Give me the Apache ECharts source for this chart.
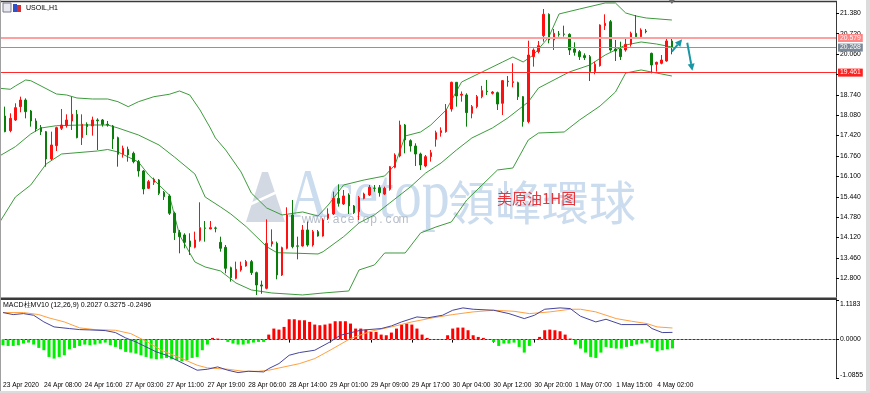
<!DOCTYPE html>
<html><head><meta charset="utf-8">
<script src="https://cdn.jsdelivr.net/npm/echarts@6/dist/echarts.min.js"></script>
<style>html,body{margin:0;padding:0;background:#fff;}#c{width:870px;height:393px;}</style>
</head><body><div id="c"></div>
<script>
// ---------- DATA ----------
const tickBars = [0,8,16,24,32,40,48,56,64,72,80,88,96,104,112,120,128];
const tickLabels = ['23 Apr 2020','24 Apr 08:00','24 Apr 16:00','27 Apr 03:00','27 Apr 11:00','27 Apr 19:00','28 Apr 06:00','28 Apr 14:00','29 Apr 01:00','29 Apr 09:00','29 Apr 17:00','30 Apr 04:00','30 Apr 12:00','30 Apr 20:00','1 May 07:00','1 May 15:00','4 May 02:00'];
const priceTicks = [21.38,20.72,20.06,19.40,18.74,18.08,17.42,16.76,16.10,15.44,14.78,14.12,13.46,12.80];
const macdTicks = [1.1183,0,-1.0855];

const openP = [17.710,18.055,17.581,17.926,18.358,18.573,18.217,17.894,17.678,17.548,
16.663,17.095,17.656,17.743,17.894,18.109,17.354,17.786,17.732,17.926,
17.926,17.786,17.732,17.354,16.814,16.976,16.847,16.577,16.275,15.714,
15.908,15.984,15.584,15.466,14.905,14.279,14.203,14.009,13.804,14.030,
14.430,14.397,14.430,13.966,13.804,13.145,12.800,13.070,13.199,13.340,
12.983,12.584,12.476,13.912,13.933,12.908,13.771,14.850,13.850,13.847,
14.365,13.879,14.311,14.170,14.742,14.883,15.390,15.206,15.498,15.142,
14.958,15.390,15.498,15.720,15.735,15.530,15.681,16.394,16.760,17.764,
17.257,17.084,16.825,16.437,16.739,17.300,17.516,17.548,18.282,19.146,
18.730,18.736,18.142,18.358,18.682,18.860,18.790,18.811,18.466,19.180,
19.135,19.135,18.682,17.872,19.976,20.138,20.656,21.347,20.516,20.710,
20.710,20.699,20.225,20.138,20.009,19.976,19.491,19.685,20.980,21.109,
20.225,20.225,20.192,20.376,20.732,20.624,20.807,20.084,19.728,19.761,
19.836,20.484];
const closeP = [17.527,17.548,17.980,18.325,18.573,18.196,17.894,17.635,17.548,16.663,
17.117,17.678,17.764,17.926,18.109,17.354,17.786,17.710,17.926,17.900,
17.786,17.764,17.311,16.814,17.009,16.793,16.577,16.275,15.692,15.930,
16.005,15.552,15.444,14.905,14.279,14.149,13.966,13.825,14.041,14.440,
14.419,14.440,14.419,13.771,13.124,12.822,13.092,13.199,13.340,12.983,
12.584,12.550,13.933,13.987,12.908,13.793,14.850,13.825,13.840,14.365,
13.879,14.311,14.170,14.688,14.883,15.390,15.228,15.466,15.142,14.926,
15.412,15.530,15.746,15.714,15.573,15.714,16.415,16.793,17.764,17.278,
17.084,16.825,16.469,16.739,16.868,17.516,17.580,18.271,19.146,18.703,
18.760,18.164,18.358,18.682,18.876,18.844,18.830,18.444,19.200,19.167,
19.167,18.682,17.872,20.030,20.192,20.332,21.347,20.516,20.732,20.699,
20.699,20.192,20.117,19.976,19.944,19.491,19.728,21.002,21.055,20.192,
20.160,19.976,20.376,20.732,20.624,20.840,20.786,19.707,19.793,19.868,
20.484,20.268];
const lowP = [17.500,17.530,17.527,17.894,18.174,17.980,17.710,17.548,17.440,16.415,
16.631,16.922,17.602,17.678,17.602,17.333,17.117,17.440,17.419,16.955,
17.710,17.710,16.987,16.415,16.707,16.577,16.523,16.091,15.520,15.692,
15.822,15.498,15.336,14.851,14.041,13.609,13.771,13.556,13.771,13.987,
13.987,14.390,14.289,13.663,12.962,12.692,12.768,13.016,13.178,12.908,
12.260,12.300,12.444,13.825,12.768,12.876,13.739,13.771,13.415,13.825,
13.825,13.825,14.149,14.149,14.688,14.850,15.120,15.174,14.883,14.883,
14.688,15.358,15.466,15.606,15.444,15.498,15.638,16.361,16.717,16.847,
16.901,16.437,16.307,16.394,16.577,17.063,17.386,17.516,18.196,18.358,
18.520,17.710,17.980,18.304,18.630,18.736,18.750,18.250,18.088,19.005,
18.984,18.574,17.710,17.818,19.653,20.084,20.462,20.408,20.192,20.624,
20.624,20.030,20.009,19.868,19.868,19.189,19.404,19.653,20.840,20.138,
19.836,19.868,20.138,20.300,20.570,20.570,20.732,19.437,19.491,19.728,
19.814,20.052];
const highP = [17.760,18.358,18.142,18.466,18.681,18.627,18.250,17.980,17.764,17.570,
17.548,17.710,18.282,18.109,18.681,18.250,18.109,17.850,18.034,17.980,
17.958,17.894,17.764,17.386,17.095,17.063,16.901,16.631,16.307,15.984,
16.059,16.016,15.627,15.520,14.958,14.365,14.257,14.257,14.311,15.261,
14.656,14.656,14.473,14.149,13.879,13.178,13.340,13.340,13.394,13.394,
13.016,12.725,14.710,14.386,13.987,13.825,15.099,15.336,14.149,14.527,
14.634,14.365,14.365,14.742,15.066,15.606,15.843,15.660,15.552,15.174,
15.466,15.573,15.821,15.821,15.821,15.768,16.437,16.847,17.904,17.796,
17.300,17.170,16.868,16.793,16.955,17.580,17.688,18.444,19.167,19.135,
18.850,18.790,18.410,18.736,19.030,19.221,18.860,18.844,19.221,19.351,
19.761,19.167,18.700,20.494,20.246,20.484,21.519,21.379,20.872,20.807,
20.980,20.732,20.441,20.192,20.084,20.030,19.814,21.023,21.347,21.163,
20.516,20.462,20.570,20.786,21.325,20.894,20.872,20.106,19.814,20.030,
20.570,20.548];

const bbUpperBars = [0,2,3,5,6,8,11,13,15,18,21,23,25,27,30,33,35,37,39,41,42,44,47,49,52,55,59,62,64,67,71,75,77,79,82,84,87,90,94,98,100,102,104,107,109,113,118,120,122,124,126,131];
const bbUpper = [18.952,18.920,19.027,19.221,19.198,19.027,18.768,18.735,18.638,18.606,18.606,18.518,18.357,18.518,18.680,18.758,18.865,18.735,18.250,17.667,17.343,16.955,16.243,15.563,15.077,14.851,14.948,14.818,15.174,15.822,15.984,16.113,16.469,17.408,17.537,17.764,18.250,19.156,19.480,19.804,19.965,19.804,20.030,20.613,21.358,21.519,21.714,21.714,21.390,21.293,21.228,21.163];
const bbMiddleBars = [0,3,6,8,11,16,21,23,27,31,34,38,40,43,45,48,52,54,58,62,63,67,70,73,76,80,83,86,89,92,96,99,103,105,111,115,118,122,125,128,131];
const bbMiddle = [16.770,17.062,17.473,17.667,17.741,17.764,17.764,17.667,17.440,17.117,16.728,16.178,15.433,15.110,14.883,14.472,13.824,13.630,13.611,13.588,13.662,14.148,14.592,14.851,15.239,15.757,16.210,16.534,16.955,17.343,17.667,17.991,18.509,18.962,19.480,19.706,20.030,20.354,20.451,20.386,20.289];
const bbLowerBars = [0,3,6,9,12,19,21,23,27,29,33,35,38,40,43,46,49,53,59,63,68,70,73,75,79,82,85,88,91,94,97,100,103,105,110,113,117,120,122,125,128,131];
const bbLower = [14.634,15.433,15.822,16.502,16.825,16.922,16.971,16.890,16.566,16.145,15.498,14.203,13.329,13.167,13.038,12.649,12.423,12.325,12.261,12.325,12.390,13.070,13.232,13.620,13.620,14.268,14.462,14.624,15.336,15.822,16.307,16.372,17.279,17.505,17.537,17.926,18.379,18.832,19.447,19.545,19.447,19.350];

const levelValues = [20.579, 20.268, 19.461];

const macdHist = [-0.160,-0.179,-0.179,-0.160,-0.113,-0.085,-0.141,-0.235,-0.301,-0.490,
-0.537,-0.490,-0.443,-0.273,-0.235,-0.179,-0.141,-0.160,-0.141,-0.113,
-0.085,-0.160,-0.207,-0.273,-0.348,-0.367,-0.395,-0.443,-0.490,-0.537,
-0.556,-0.537,-0.518,-0.556,-0.584,-0.612,-0.584,-0.518,-0.490,-0.301,
-0.141,0.047,0.028,-0.010,-0.066,-0.113,-0.141,-0.141,-0.113,-0.085,
-0.066,-0.066,0.141,0.311,0.282,0.358,0.574,0.574,0.546,0.546,
0.499,0.424,0.405,0.424,0.452,0.518,0.518,0.518,0.452,0.311,
0.311,0.282,0.217,0.217,0.141,0.122,0.198,0.311,0.424,0.452,
0.424,0.311,0.141,0.047,0.005,0.003,0.003,0.122,0.311,0.339,
0.339,0.264,0.122,0.075,0.047,0.000,-0.066,-0.179,-0.113,-0.113,
-0.085,-0.207,-0.367,-0.179,0.000,0.075,0.264,0.282,0.264,0.235,
0.141,0.028,-0.141,-0.254,-0.367,-0.490,-0.518,-0.367,-0.207,-0.235,
-0.254,-0.254,-0.207,-0.179,-0.141,-0.113,-0.085,-0.235,-0.330,-0.301,
-0.273,-0.2496];
const macdLineBars = [0,2,4,6,8,10,13,15,17,20,22,24,26,28,30,32,34,36,38,40,42,44,46,48,51,52,54,56,58,61,64,66,70,74,76,78,81,83,86,88,90,92,96,99,102,104,106,109,111,113,116,118,121,126,127,129,131];
const macdLine = [0.763,0.706,0.734,0.687,0.499,0.358,0.311,0.282,0.273,0.254,0.198,0.047,-0.066,-0.207,-0.348,-0.443,-0.584,-0.725,-0.866,-0.838,-0.772,-0.866,-0.932,-0.895,-0.913,-0.819,-0.678,-0.443,-0.367,-0.301,-0.066,0.122,0.264,0.311,0.386,0.499,0.640,0.612,0.687,0.829,0.895,0.857,0.829,0.734,0.593,0.687,0.857,0.895,0.876,0.660,0.499,0.574,0.424,0.424,0.311,0.198,0.2027];
const signalBars = [0,4,7,9,12,15,18,22,25,28,31,35,38,40,44,47,50,52,55,58,61,64,68,72,76,80,84,88,92,96,100,103,107,111,113,116,120,123,126,128,131];
const signalLine = [0.763,0.763,0.706,0.612,0.499,0.330,0.282,0.264,0.169,-0.047,-0.301,-0.537,-0.725,-0.800,-0.838,-0.895,-0.895,-0.866,-0.772,-0.680,-0.537,-0.301,0.028,0.235,0.358,0.499,0.612,0.706,0.782,0.829,0.800,0.734,0.782,0.857,0.857,0.782,0.593,0.518,0.452,0.358,0.3275];

// annotation arrows in data space [barIndex, price]
const arrowFrom = [[130.9, 20.137],[133.8, 20.428]];
const arrowTo   = [[132.9, 20.538],[135.4, 19.52]];

// ---------- CHART ----------
const SLOTS = 164;
const F = "'Liberation Sans',Arial,sans-serif";
const cats = []; for (let i = 0; i < SLOTS; i++) cats.push(String(i));
const labelMap = {}; tickBars.forEach((b, k) => labelMap[b] = tickLabels[k]);
const pairs = (bars, vals) => bars.map((b, k) => [b, vals[k]]);
const ohlc = openP.map((o, i) => [o, closeP[i], lowP[i], highP[i]]);
const bandStyle = {color: '#3d9b3d', width: 1};

const chart = echarts.init(document.getElementById('c'), null, {renderer: 'canvas'});
const levelColors = [['#ffa0a0','#ff8484',2], ['#8a96a6','#7a8898',1], ['#ff2a2a','#ff2020',1]];

chart.setOption({
  animation: false,
  backgroundColor: '#ffffff',
  grid: [
    {left: 0, top: 2, width: 836, height: 295},
    {left: 0, top: 300, width: 836, height: 78}
  ],
  xAxis: [
    {type: 'category', gridIndex: 0, data: cats, boundaryGap: false,
     axisLine: {show: false}, axisTick: {show: false}, axisLabel: {show: false}, splitLine: {show: false}},
    {type: 'category', gridIndex: 1, data: cats, boundaryGap: false,
     axisLine: {show: true, lineStyle: {color: '#3a3a3a', width: 1}},
     axisTick: {show: true, length: 3, interval: (i) => labelMap[i] !== undefined, lineStyle: {color: '#000'}},
     axisLabel: {show: true, interval: (i) => labelMap[i] !== undefined, formatter: (v, i) => labelMap[i] || '',
       showMinLabel: true, showMaxLabel: true, hideOverlap: false,
       align: 'left', margin: 4, fontSize: 6.6, fontFamily: F, color: '#000'},
     splitLine: {show: false}}
  ],
  yAxis: [
    {type: 'value', gridIndex: 0, position: 'right', min: 12.195, max: 21.746, scale: true,
     axisLine: {show: true, lineStyle: {color: '#3a3a3a'}},
     axisTick: {show: true, length: 3, customValues: priceTicks, lineStyle: {color: '#000'}},
     axisLabel: {show: true, customValues: priceTicks, formatter: v => v.toFixed(3), margin: 4,
       fontSize: 6.8, fontFamily: F, color: '#000'},
     splitLine: {show: false}},
    {type: 'value', gridIndex: 1, position: 'right', min: -1.0855, max: 1.1183,
     axisLine: {show: true, lineStyle: {color: '#3a3a3a'}},
     axisTick: {show: true, length: 3, customValues: macdTicks, lineStyle: {color: '#000'}},
     axisLabel: {show: true, customValues: macdTicks, margin: 4,
       formatter: v => v > 1 ? '{a|' + v.toFixed(4) + '}' : (v < -1 ? '{b|' + v.toFixed(4) + '}' : '{c|' + v.toFixed(4) + '}'),
       rich: {a: {padding: [8,0,0,0], fontSize: 6.8, fontFamily: F, color: '#000'},
              b: {padding: [0,0,6,0], fontSize: 6.8, fontFamily: F, color: '#000'},
              c: {fontSize: 6.8, fontFamily: F, color: '#000'}},
       fontSize: 6.8, fontFamily: F, color: '#000'},
     splitLine: {show: false}}
  ],
  series: [
    {type: 'line', xAxisIndex: 0, yAxisIndex: 0, data: pairs(bbUpperBars, bbUpper), symbol: 'none', lineStyle: bandStyle, z: 1},
    {type: 'line', xAxisIndex: 0, yAxisIndex: 0, data: pairs(bbMiddleBars, bbMiddle), symbol: 'none', lineStyle: bandStyle, z: 1},
    {type: 'line', xAxisIndex: 0, yAxisIndex: 0, data: pairs(bbLowerBars, bbLower), symbol: 'none', lineStyle: bandStyle, z: 1},
    {type: 'candlestick', xAxisIndex: 0, yAxisIndex: 0, data: ohlc, barWidth: 2, z: 3,
     itemStyle: {color: '#ff1010', color0: '#0a7d0a', borderColor: '#ff1010', borderColor0: '#0a7d0a', borderWidth: 1},
     markLine: {silent: true, symbol: ['none','none'], animation: false,
       data: levelValues.map((v, k) => ({
         yAxis: v,
         lineStyle: {color: levelColors[k][0], width: levelColors[k][2], type: 'solid'},
         label: {show: true, position: 'end', distance: 2, formatter: v.toFixed(3),
           backgroundColor: levelColors[k][1], color: '#fff', fontSize: 6.8, fontFamily: F, padding: [1,2,0,2]}
       }))}
    },
    {type: 'bar', xAxisIndex: 1, yAxisIndex: 1, data: macdHist, barWidth: 3,
     itemStyle: {color: p => p.value >= 0 ? '#ff0000' : '#00ee00'},
     markLine: {silent: true, symbol: ['none','none'], label: {show: false},
       lineStyle: {color: '#8b98a8', type: [2,2], width: 1}, data: [{yAxis: 0}]}},
    {type: 'line', xAxisIndex: 1, yAxisIndex: 1, data: pairs(signalBars, signalLine), symbol: 'none',
     lineStyle: {color: '#ffa040', width: 1}, z: 4},
    {type: 'line', xAxisIndex: 1, yAxisIndex: 1, data: pairs(macdLineBars, macdLine), symbol: 'none',
     lineStyle: {color: '#45459e', width: 1}, z: 5}
  ]
});

// ---------- DECORATION ----------
const els = [];
els.push({type: 'line', shape: {x1: 0, y1: 1.5, x2: 837, y2: 1.5}, style: {stroke: '#3a3a3a', lineWidth: 1.5}, z: 50});
els.push({type: 'rect', shape: {x: 0, y: 297.5, width: 837, height: 2.5}, style: {fill: '#3a3a3a'}, z: 50});
els.push({type: 'line', shape: {x1: 0.5, y1: 0, x2: 0.5, y2: 393}, style: {stroke: '#a0a0a0', lineWidth: 1}, z: 50});
els.push({type: 'rect', shape: {x: 866, y: 0, width: 4, height: 393}, style: {fill: '#dcdcdc'}, z: 50});
els.push({type: 'rect', shape: {x: 0, y: 391, width: 870, height: 2}, style: {fill: '#dcdcdc'}, z: 50});
els.push({type: 'rect', shape: {x: 3, y: 3, width: 8, height: 9}, style: {fill: '#e8e8f0', stroke: '#7a7a8a', lineWidth: 1}, z: 60});
els.push({type: 'rect', shape: {x: 13, y: 4, width: 4, height: 8}, style: {fill: '#3050c8'}, z: 60});
els.push({type: 'rect', shape: {x: 17, y: 5, width: 4, height: 7}, style: {fill: '#d83030'}, z: 60});
els.push({type: 'text', x: 26, y: 8, style: {text: 'USOIL,H1', fill: '#000', font: '7px ' + F, verticalAlign: 'middle', align: 'left'}, z: 60});
els.push({type: 'text', x: 3, y: 305, style: {text: 'MACD柱MV10 (12,26,9) 0.2027 0.3275 -0.2496', fill: '#000', font: '7px ' + F, verticalAlign: 'middle', align: 'left'}, z: 60});
// watermark
els.push({type: 'polygon', shape: {points: [[246,222],[262,172],[268,172],[285,222]]}, style: {fill: '#c3ccda', opacity: 0.75}, z: 0});
els.push({type: 'line', shape: {x1: 238, y1: 210, x2: 290, y2: 186}, style: {stroke: '#ffffff', lineWidth: 2.5}, z: 0});
els.push({type: 'text', x: 288, y: 199, scaleX: 0.8, style: {text: 'Acetop', fill: '#cbdcee', font: '70px "Liberation Serif", serif', verticalAlign: 'middle', align: 'left'}, z: 0});
els.push({type: 'text', x: 448, y: 202, style: {text: '領峰環球', fill: '#cbdcee', font: '47px "Noto Sans CJK TC"', verticalAlign: 'middle', align: 'left'}, z: 0});
const urlText = 'www.acetop.com';
for (let k = 0; k < urlText.length; k++) {
  els.push({type: 'text', x: 306 + 7.5 * k, y: 220, style: {text: urlText[k], fill: '#b6bdc9', font: '12px "Liberation Sans"', verticalAlign: 'middle', align: 'center'}, z: 0});
}
els.push({type: 'text', x: 497, y: 198, style: {text: '美原油1H图', fill: '#e5363c', font: '15px "Noto Sans CJK SC"', verticalAlign: 'middle', align: 'left'}, z: 60});
// arrows
const arrowColor = '#1a97a4';
arrowFrom.forEach((a, k) => {
  const p0 = chart.convertToPixel({xAxisIndex: 0, yAxisIndex: 0}, a);
  const p1 = chart.convertToPixel({xAxisIndex: 0, yAxisIndex: 0}, arrowTo[k]);
  const dx = p1[0] - p0[0], dy = p1[1] - p0[1], L = Math.hypot(dx, dy), ux = dx / L, uy = dy / L;
  const hl = 7, hw = 3.5, bx = p1[0] - ux * hl, by = p1[1] - uy * hl;
  els.push({type: 'line', shape: {x1: p0[0], y1: p0[1], x2: bx, y2: by}, style: {stroke: arrowColor, lineWidth: 2}, z: 70});
  els.push({type: 'polygon', shape: {points: [[p1[0], p1[1]], [bx - uy * hw, by + ux * hw], [bx + uy * hw, by - ux * hw]]}, style: {fill: arrowColor}, z: 70});
});
const lastX = chart.convertToPixel({xAxisIndex: 0}, openP.length - 1);
els.push({type: 'polygon', shape: {points: [[lastX - 3, 0], [lastX + 3, 0], [lastX, 4]]}, style: {fill: '#6a6a6a'}, z: 70});

chart.setOption({graphic: {elements: els}});
</script></body></html>
